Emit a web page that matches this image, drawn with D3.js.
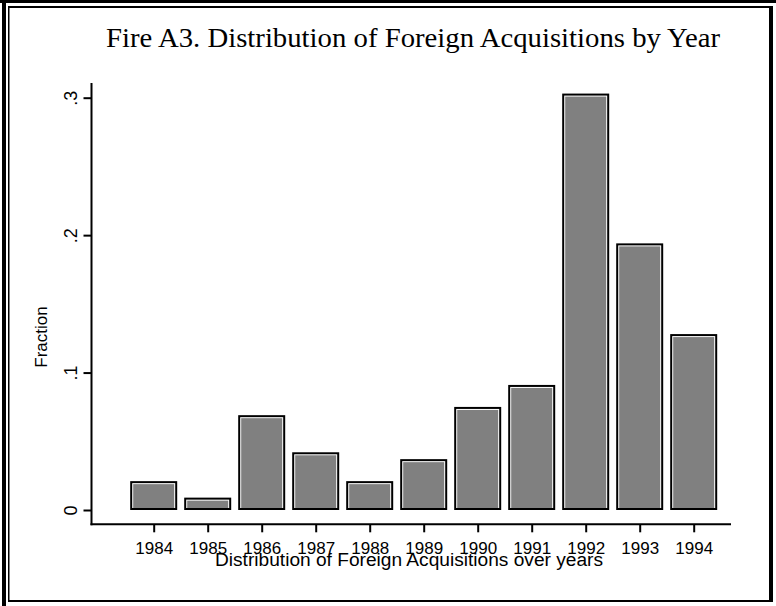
<!DOCTYPE html>
<html>
<head>
<meta charset="utf-8">
<script src="https://cdn.jsdelivr.net/npm/d3@7"></script>
<style>
  body { margin: 0; background: #fff; }
  text { font-family: "Liberation Sans", Arial, sans-serif; }
</style>
</head>
<body>
<div id="chart"></div>
<script>
// data
var years = [1984, 1985, 1986, 1987, 1988, 1989, 1990, 1991, 1992, 1993, 1994];
var fractions = [0.021, 0.009, 0.069, 0.042, 0.021, 0.037, 0.075, 0.091, 0.303, 0.194, 0.128];
var yTicks = [0, 0.1, 0.2, 0.3];
var yTickLabels = ["0", ".1", ".2", ".3"];

var width = 776, height = 606;

var svg = d3.select("#chart").append("svg")
  .attr("width", width)
  .attr("height", height);

svg.append("rect").attr("width", width).attr("height", height).attr("fill", "#fff");

// stata style double frame
var frame = [
  [0, 0, 776, 3],
  [2, 0, 4, 606],
  [8, 6, 763, 2],
  [8, 6, 1.5, 596],
  [8, 600, 765, 2],
  [769, 6, 4, 596]
];
svg.selectAll(".frame").data(frame).enter().append("rect")
  .attr("class", "frame")
  .attr("x", function(d) { return d[0]; })
  .attr("y", function(d) { return d[1]; })
  .attr("width", function(d) { return d[2]; })
  .attr("height", function(d) { return d[3]; })
  .attr("fill", "#000");

var xScale = d3.scaleLinear()
  .domain([1984, 1994])
  .range([153.7, 693.7]);

var yScale = d3.scaleLinear()
  .domain([0, 0.3])
  .range([510, 97.7]);

var axisX = 91.5, axisY = 524.3;
var barW = 47;

// title
svg.append("text")
  .attr("x", 413)
  .attr("y", 47)
  .attr("text-anchor", "middle")
  .attr("textLength", 614)
  .attr("lengthAdjust", "spacingAndGlyphs")
  .style("font-family", "'Liberation Serif', 'Times New Roman', serif")
  .style("font-size", "27px")
  .text("Fire A3. Distribution of Foreign Acquisitions by Year");

// bars: black edge, thin white inner line, grey fill
var bars = svg.selectAll(".bar")
  .data(years)
  .enter()
  .append("g")
  .attr("class", "bar");

bars.append("rect")
  .attr("x", function(d) { return xScale(d) - barW / 2; })
  .attr("y", function(d, i) { return yScale(fractions[i]); })
  .attr("width", barW)
  .attr("height", function(d, i) { return yScale(0) - yScale(fractions[i]); })
  .attr("fill", "#000");

bars.append("rect")
  .attr("x", function(d) { return xScale(d) - barW / 2 + 2; })
  .attr("y", function(d, i) { return yScale(fractions[i]) + 2; })
  .attr("width", barW - 4)
  .attr("height", function(d, i) { return Math.max(0, yScale(0) - yScale(fractions[i]) - 4); })
  .attr("fill", "#fff");

bars.append("rect")
  .attr("x", function(d) { return xScale(d) - barW / 2 + 3; })
  .attr("y", function(d, i) { return yScale(fractions[i]) + 3; })
  .attr("width", barW - 6)
  .attr("height", function(d, i) { return Math.max(0, yScale(0) - yScale(fractions[i]) - 5); })
  .attr("fill", "#808080");

// y axis
var gy = svg.append("g")
  .attr("transform", "translate(" + axisX + ",0)")
  .call(d3.axisLeft(yScale).tickValues(yTicks).tickSize(8)
    .tickFormat(function(d, i) { return yTickLabels[i]; }));

gy.select(".domain").remove();
gy.selectAll("line").attr("stroke", "#000").attr("stroke-width", 2);
gy.selectAll("text")
  .attr("x", 0)
  .attr("dy", 0)
  .attr("text-anchor", "middle")
  .attr("transform", "translate(-14.5,0) rotate(-90)")
  .style("font-size", "18px")
  .attr("fill", "#000");

gy.append("line")
  .attr("x1", 0).attr("x2", 0)
  .attr("y1", 83).attr("y2", axisY + 1)
  .attr("stroke", "#000")
  .attr("stroke-width", 2);

// x axis
var gx = svg.append("g")
  .attr("transform", "translate(0," + axisY + ")")
  .call(d3.axisBottom(xScale).tickValues(years).tickSize(8).tickFormat(d3.format("d")));

gx.select(".domain").remove();
gx.selectAll("line").attr("stroke", "#000").attr("stroke-width", 2);
gx.selectAll("text")
  .attr("y", 30)
  .attr("dy", 0)
  .style("font-size", "17px")
  .attr("fill", "#000");

gx.append("line")
  .attr("x1", axisX - 1).attr("x2", 731)
  .attr("y1", 0).attr("y2", 0)
  .attr("stroke", "#000")
  .attr("stroke-width", 2);

// axis titles
svg.append("text")
  .attr("x", 409)
  .attr("y", 566)
  .attr("text-anchor", "middle")
  .attr("textLength", 388)
  .attr("lengthAdjust", "spacingAndGlyphs")
  .style("font-size", "18px")
  .text("Distribution of Foreign Acquisitions over years");

svg.append("text")
  .attr("transform", "translate(47,337) rotate(-90)")
  .attr("text-anchor", "middle")
  .style("font-size", "17px")
  .text("Fraction");
</script>
</body>
</html>
